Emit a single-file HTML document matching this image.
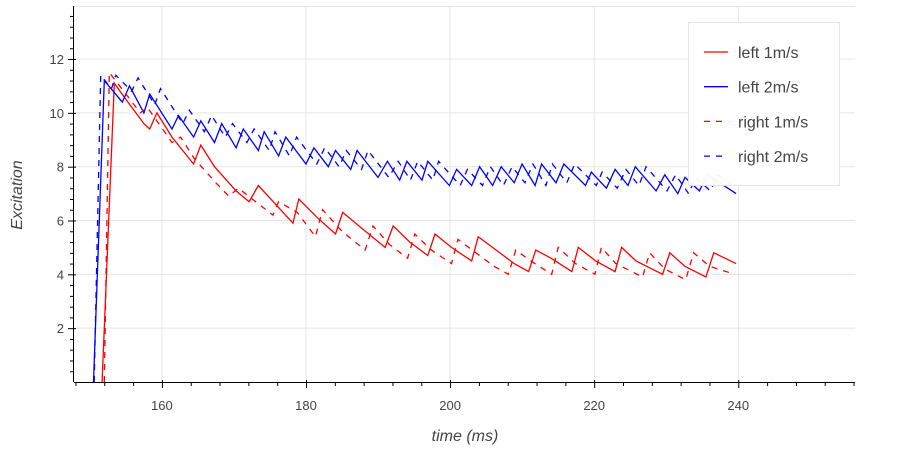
<!DOCTYPE html>
<html><head><meta charset="utf-8"><style>
html,body{margin:0;padding:0;background:#fff;}
svg{display:block;font-family:"Liberation Sans",sans-serif;}
</style></head><body>
<svg id="chart" width="900" height="450"></svg>
<script>
const xTicks=[160,180,200,220,240];
const yTicks=[2,4,6,8,10,12];
const seriesNames=["left 1m/s","left 2m/s","right 1m/s","right 2m/s"];
const leftFastT=[150.5,152.0,154.5,155.5,157.5,158.3,161.4,162.3,164.4,165.4,167.3,168.3,170.3,171.3,173.4,174.2,176.2,177.2,180.0,181.1,183.1,184.1,186.2,187.1,190.0,191.3,193.0,194.0,196.1,196.9,199.9,200.9,203.0,204.1,205.9,207.1,208.9,210.0,211.8,212.7,214.7,215.8,218.8,219.6,221.7,222.9,224.7,225.7,228.6,229.8,231.6,232.6,234.6,235.7,239.7];
const leftFastY=[0,11.2,10.4,11.0,10.0,10.7,9.4,9.9,9.1,9.7,8.9,9.6,8.7,9.4,8.6,9.3,8.4,9.1,8.1,8.7,8.0,8.6,7.9,8.6,7.6,8.2,7.5,8.2,7.5,8.2,7.3,7.9,7.3,8.0,7.3,8.0,7.4,8.1,7.3,8.1,7.4,8.1,7.3,7.8,7.2,7.9,7.3,8.0,7.1,7.7,7.0,7.6,7.1,7.7,7.0];
const rightFastT=[150.6,151.5,153.0,153.6,155.8,156.7,159.0,159.8,162.9,163.8,165.9,166.9,168.8,169.8,171.8,172.8,174.9,175.7,177.7,178.7,181.5,182.6,184.6,185.6,187.7,188.6,191.5,192.8,194.5,195.5,197.6,198.4,201.4,202.4,204.5,205.6,207.4,208.6,210.4,211.5,213.3,214.2,216.2,217.3,220.3,221.1,223.2,224.4,226.2,227.2,230.1,231.3,233.1,234.1,236.1,237.2,239.6];
const rightFastY=[0,11.4,10.9,11.4,10.8,11.3,10.3,10.9,9.6,10.1,9.3,9.9,9.1,9.6,8.9,9.4,8.6,9.3,8.4,9.1,8.1,8.7,8.0,8.6,7.9,8.6,7.6,8.2,7.5,8.2,7.5,8.2,7.3,7.9,7.3,8.0,7.3,8.0,7.4,8.1,7.3,8.1,7.4,8.1,7.3,7.8,7.2,7.9,7.3,8.0,7.1,7.7,7.0,7.6,7.1,7.7,7.2];
const leftSlowT=[151.7,153.4,155.0,157.5,158.3,159.3,161.4,164.4,165.4,167.3,170.3,172.1,173.4,178.2,179.0,181.6,184.1,185.1,187.8,191.0,192.1,194.4,196.9,197.9,200.2,203.0,203.9,206.4,208.9,210.9,211.9,214.0,216.9,217.8,220.2,222.9,223.8,225.8,229.5,230.5,232.6,235.5,236.6,239.7];
const leftSlowY=[0,11.1,10.5,9.6,9.4,10.0,9.1,8.1,8.8,8.0,7.1,6.7,7.3,5.9,6.8,6.1,5.5,6.3,5.7,5.0,5.8,5.2,4.7,5.5,5.0,4.5,5.4,4.9,4.4,4.1,4.9,4.6,4.1,5.0,4.5,4.1,5.0,4.5,4.0,4.8,4.3,3.9,4.8,4.4];
const rightSlowT=[152.0,152.7,155.3,157.0,158.0,161.4,162.6,164.5,167.5,169.3,170.6,175.4,176.2,178.8,181.3,182.3,185.0,188.2,189.3,191.6,194.1,195.1,197.4,200.2,201.1,203.6,206.1,208.1,209.1,211.2,214.1,215.0,217.4,220.1,221.0,223.0,226.7,227.7,229.8,232.7,233.8,236.0,239.5];
const rightSlowY=[0,11.5,10.6,10.0,10.2,8.9,9.1,8.3,7.4,6.9,7.2,6.2,6.7,6.3,5.4,6.4,5.6,4.9,5.8,5.1,4.6,5.5,4.9,4.4,5.3,4.8,4.3,4.0,4.9,4.5,4.0,5.0,4.4,4.0,5.0,4.4,3.9,4.8,4.2,3.8,4.8,4.3,4.0];

const NS="http://www.w3.org/2000/svg";
const svg=document.getElementById('chart');
const L=74,R=855,T=6,B=382;
const X0=147.8,X1=256.2,Y0=0,Y1=13.97;
function sx(v){return L+(v-X0)/(X1-X0)*(R-L);}
function sy(v){return B-(v-Y0)/(Y1-Y0)*(B-T);}
function mk(tag,attrs,parent){const e=document.createElementNS(NS,tag);for(const k in attrs)e.setAttribute(k,attrs[k]);(parent||svg).appendChild(e);return e;}

const grid=mk('g',{});


xTicks.forEach(v=>{const l=mk('line',{x1:sx(v),x2:sx(v),y1:T,y2:B,stroke:'#e5e5e5','stroke-width':1},grid);

});
yTicks.forEach(v=>{const l=mk('line',{x1:L,x2:R,y1:sy(v),y2:sy(v),stroke:'#e5e5e5','stroke-width':1},grid);

});
const topLine=mk('line',{x1:L,x2:R,y1:T+0.5,y2:T+0.5,stroke:'#e5e5e5'},grid);



function drawSeries(ts,ys,color,dash,name){
  let d='';ts.forEach((t,i)=>{d+=(i?'L':'M')+sx(t).toFixed(1)+' '+sy(ys[i]).toFixed(1);});
  const p=mk('path',{d:d,fill:'none',stroke:color,'stroke-width':1.3,'stroke-dasharray':dash?'6 6':'none'});
  
  
}
drawSeries(leftSlowT,leftSlowY,'#ff0000',false,'line-left-1ms');
drawSeries(leftFastT,leftFastY,'#0000ff',false,'line-left-2ms');
drawSeries(rightSlowT,rightSlowY,'#ff0000',true,'line-right-1ms');
drawSeries(rightFastT,rightFastY,'#0000ff',true,'line-right-2ms');

const ax=mk('g',{});


mk('line',{x1:L,x2:R,y1:B+0.5,y2:B+0.5,stroke:'#000','stroke-width':1},ax);
for(let v=148;v<=256;v+=4){const maj=(v%20===0);mk('line',{x1:sx(v)+0.5,x2:sx(v)+0.5,y1:maj?B-2:B,y2:B+(maj?6:4),stroke:'#000'},ax);}
xTicks.forEach(v=>{const t=mk('text',{x:sx(v),y:B+28,'text-anchor':'middle','font-size':13,fill:'#444'},ax);t.textContent=v;

});
const ay=mk('g',{});


mk('line',{x1:L-0.5,x2:L-0.5,y1:T,y2:B,stroke:'#000','stroke-width':1},ay);
for(let i=1;i<=34;i++){const v=i*0.4;const maj=(i%5===0);mk('line',{x1:L-(maj?6:4),x2:maj?L+2:L,y1:sy(v)+0.5,y2:sy(v)+0.5,stroke:'#000'},ay);}
yTicks.forEach(v=>{const t=mk('text',{x:L-10,y:sy(v)+5,'text-anchor':'end','font-size':13,fill:'#444'},ay);t.textContent=v;

});
const xt=mk('text',{x:465,y:441,'text-anchor':'middle','font-size':16,'font-style':'italic',fill:'#444'});xt.textContent='time (ms)';


const yt=mk('text',{x:0,y:0,transform:'translate(22,195) rotate(-90)','text-anchor':'middle','font-size':16,'font-style':'italic',fill:'#444'});yt.textContent='Excitation';



const lg=mk('g',{});


mk('rect',{x:688.5,y:22.5,width:151,height:163,fill:'#fff','fill-opacity':0.95,stroke:'#e5e5e5'},lg);
const colors=['#ff0000','#0000ff','#ff0000','#0000ff'];
seriesNames.forEach((n,i)=>{const y=52+i*34.7;
const g=mk('g',{},lg);


mk('line',{x1:704,x2:728,y1:y,y2:y,stroke:colors[i],'stroke-width':1.3,'stroke-dasharray':i>=2?'6 6':'none'},g);
const t=mk('text',{x:738,y:y+6,'font-size':16,fill:'#444'},g);t.textContent=n;});
</script>
</body></html>
